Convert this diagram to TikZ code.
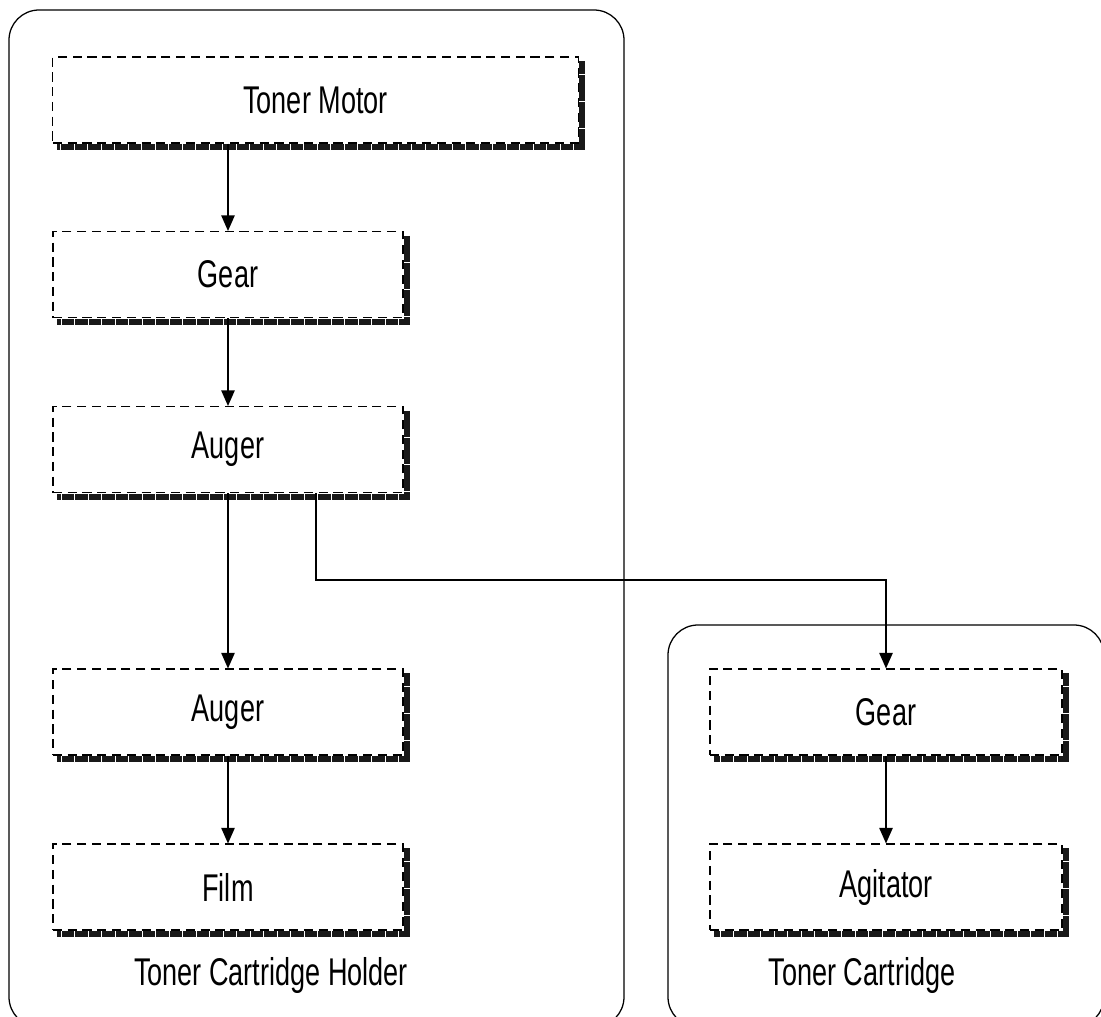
\documentclass[tikz,border=0pt]{standalone}
\usepackage{fontspec}
\setmainfont{Liberation Sans}[FakeStretch=0.7]
\usetikzlibrary{positioning, arrows.meta}

\begin{document}
\begin{tikzpicture}[
        x=0.025cm, y=-0.025cm,
        part/.style={draw, rectangle, dash pattern=on 6.5pt off 4pt, line width=0.8pt, fill=white,
            minimum width=8.75cm, minimum height=2.15cm, align=center,
            font=\fontsize{27.5}{32}\selectfont},
        wide/.style={part, minimum width=13.125cm},
        shadowline/.style={draw=black!90, line width=4.2pt, dash pattern=on 9pt off 0.6pt},
        group/.style={draw, rounded corners=0.75cm, line width=0.9pt},
        arrow/.style={-{Triangle[length=11pt, width=9.5pt]}, line width=0.9pt},
        group_text/.style={font=\fontsize{27.5}{32}\selectfont}
    ]
        \clip (0,0) rectangle (1101,1017);

        % containers
        \draw[group] (9,10) rectangle (624,1027);
        \draw[group] (668,625) rectangle (1104,1027);
        \node[group_text] (holder) at (271,975) {Toner Cartridge Holder};
        \node[group_text] (cartridge) at (862,975) {Toner Cartridge};

        \node[wide] (motor) at (315.5,100) {Toner Motor};
        \node[part] (gearA) at (228,274.5) {Gear};
        \node[part] (augerA) at (228,449.5) {Auger};
        \node[part] (augerB) at (228,712) {Auger};
        \node[part] (film) at (228,887) {Film};

        \node[part, minimum width=8.8cm] (gearB) at (886,712) {Gear};
        \node[part, minimum width=8.8cm] (agitator) at (886,887) {Agitator};

        % shadows
        \foreach \n in {motor, gearA, augerA, augerB, film, gearB, agitator}
            \draw[shadowline] ([shift={(2.5pt,-3.6pt)}]\n.north east) -- ([shift={(2.5pt,-2.5pt)}]\n.south east)
                -- ([shift={(3.6pt,-2.5pt)}]\n.south west);

        \coordinate (tap) at (316,0);
        \coordinate (route) at (0,580);

        \draw[arrow] (motor.south -| gearA) -- (gearA.north);
        \draw[arrow] (gearA) -- (augerA);
        \draw[arrow] (augerA) -- (augerB);
        \draw[arrow] (augerB) -- (film);
        \draw[arrow] (augerA.south -| tap) |- (route -| gearB) -- (gearB.north);
        \draw[arrow] (gearB) -- (agitator);

    \end{tikzpicture}
\end{document}
